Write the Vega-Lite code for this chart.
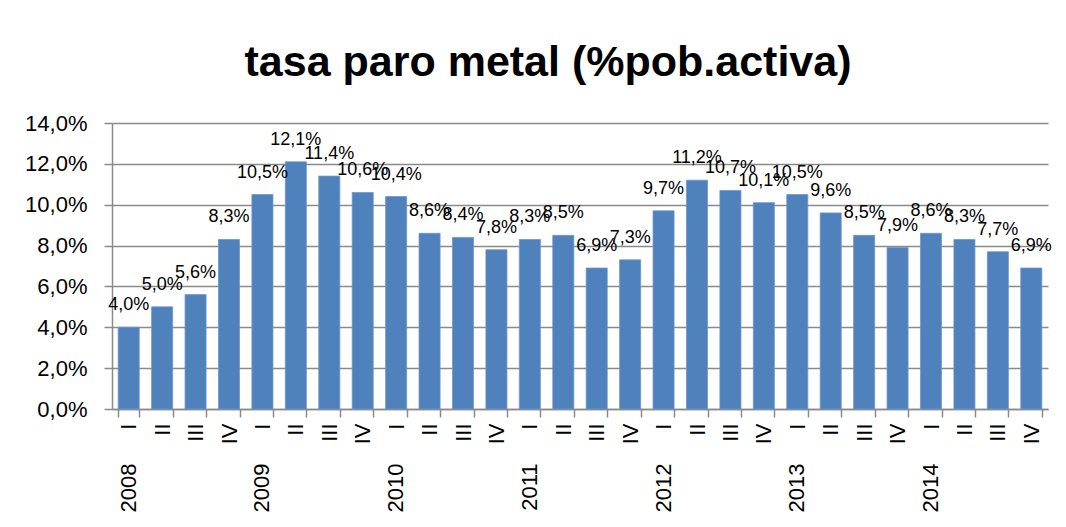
{
  "$schema": "https://vega.github.io/schema/vega-lite/v6.json",
  "width": 936,
  "height": 286,
  "autosize": {"type": "none"},
  "padding": {"left": 112, "top": 123, "right": 18, "bottom": 118},
  "background": "white",
  "config": {
    "locale": {"number": {"decimal": ",", "thousands": ".", "grouping": [3], "currency": ["", " €"]}},
    "view": {"stroke": null},
    "font": "Liberation Sans"
  },
  "title": {
    "text": "tasa paro metal (%pob.activa)",
    "font": "Liberation Sans",
    "fontWeight": "bold",
    "fontSize": 43,
    "color": "black",
    "anchor": "middle",
    "frame": "group",
    "dx": -32,
    "offset": 27
  },
  "data": {
    "values": [
      {"periodo": "2008 I", "tasa": 0.040},
      {"periodo": "2008 II", "tasa": 0.050},
      {"periodo": "2008 III", "tasa": 0.056},
      {"periodo": "2008 IV", "tasa": 0.083},
      {"periodo": "2009 I", "tasa": 0.105},
      {"periodo": "2009 II", "tasa": 0.121},
      {"periodo": "2009 III", "tasa": 0.114},
      {"periodo": "2009 IV", "tasa": 0.106},
      {"periodo": "2010 I", "tasa": 0.104},
      {"periodo": "2010 II", "tasa": 0.086},
      {"periodo": "2010 III", "tasa": 0.084},
      {"periodo": "2010 IV", "tasa": 0.078},
      {"periodo": "2011 I", "tasa": 0.083},
      {"periodo": "2011 II", "tasa": 0.085},
      {"periodo": "2011 III", "tasa": 0.069},
      {"periodo": "2011 IV", "tasa": 0.073},
      {"periodo": "2012 I", "tasa": 0.097},
      {"periodo": "2012 II", "tasa": 0.112},
      {"periodo": "2012 III", "tasa": 0.107},
      {"periodo": "2012 IV", "tasa": 0.101},
      {"periodo": "2013 I", "tasa": 0.105},
      {"periodo": "2013 II", "tasa": 0.096},
      {"periodo": "2013 III", "tasa": 0.085},
      {"periodo": "2013 IV", "tasa": 0.079},
      {"periodo": "2014 I", "tasa": 0.086},
      {"periodo": "2014 II", "tasa": 0.083},
      {"periodo": "2014 III", "tasa": 0.077},
      {"periodo": "2014 IV", "tasa": 0.069}
    ]
  },
  "encoding": {
    "x": {
      "field": "periodo",
      "type": "nominal",
      "sort": null,
      "scale": {"paddingInner": 0.37, "paddingOuter": 0.185}
    },
    "y": {
      "field": "tasa",
      "type": "quantitative",
      "scale": {"domain": [0, 0.14], "nice": false, "zero": true},
      "axis": {
        "title": null,
        "format": ".1%",
        "values": [0, 0.02, 0.04, 0.06, 0.08, 0.1, 0.12, 0.14],
        "grid": true,
        "gridColor": "#8a8a8a",
        "gridWidth": 1.5,
        "domain": true,
        "domainColor": "#8a8a8a",
        "domainWidth": 1.5,
        "ticks": true,
        "tickColor": "#8a8a8a",
        "tickWidth": 1.5,
        "tickSize": 8,
        "labelFontSize": 22,
        "labelColor": "black",
        "labelPadding": 17,
        "labelFont": "Liberation Sans"
      }
    }
  },
  "layer": [
    {
      "mark": {"type": "bar", "color": "#4f81bd", "stroke": "#6f97c9", "strokeWidth": 0.8},
      "encoding": {
        "x": {
          "field": "periodo",
          "type": "nominal",
          "sort": null,
          "axis": {
            "title": null,
            "orient": "bottom",
            "labelExpr": "split(datum.value, ' ')[1]",
            "labelAngle": -90,
            "labelAlign": "right",
            "labelBaseline": "middle",
            "labelFontSize": 22,
            "labelColor": "black",
            "labelFont": "Liberation Sans",
            "labelPadding": 6,
            "tickBand": "extent",
            "tickSize": 8,
            "tickColor": "#8a8a8a",
            "tickWidth": 1.5,
            "domainColor": "#8a8a8a",
            "domainWidth": 1.5,
            "grid": false
          }
        }
      }
    },
    {
      "mark": {"type": "text", "baseline": "alphabetic", "dy": -17, "fontSize": 18, "color": "black", "font": "Liberation Sans"},
      "encoding": {
        "x": {
          "field": "periodo",
          "type": "nominal",
          "sort": null,
          "axis": {
            "title": null,
            "orient": "bottom",
            "labelExpr": "split(datum.value, ' ')[1] == 'I' ? split(datum.value, ' ')[0] : ''",
            "labelAngle": -90,
            "labelAlign": "right",
            "labelBaseline": "middle",
            "labelFontSize": 22,
            "labelColor": "black",
            "labelFont": "Liberation Sans",
            "labelPadding": 54,
            "ticks": false,
            "tickSize": 0,
            "domain": false,
            "grid": false
          }
        },
        "text": {"field": "tasa", "type": "quantitative", "format": ".1%"}
      }
    }
  ],
  "resolve": {"axis": {"x": "independent"}}
}
